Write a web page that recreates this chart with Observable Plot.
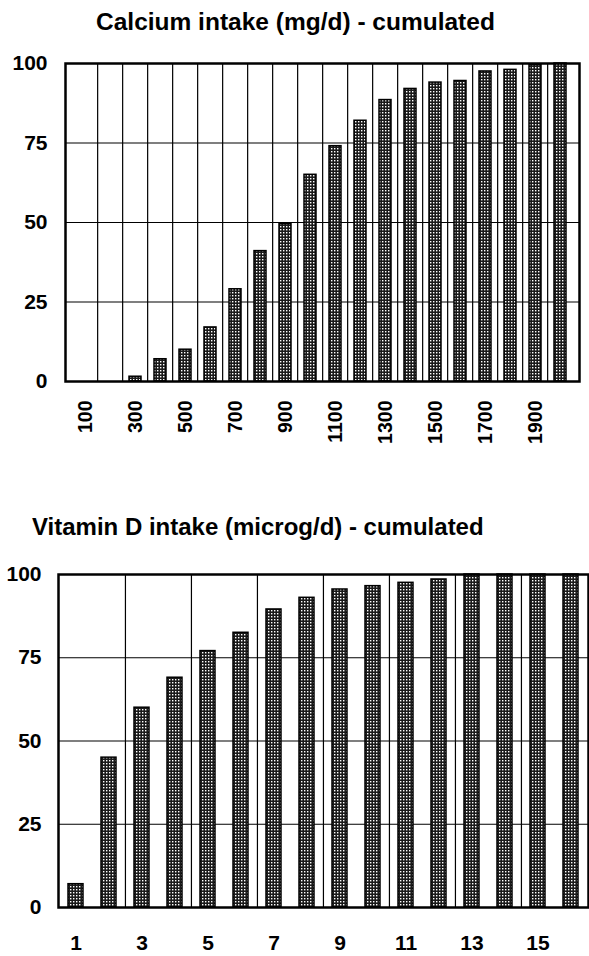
<!DOCTYPE html>
<html><head><meta charset="utf-8">
<script src="https://cdn.jsdelivr.net/npm/d3@7"></script>
<script src="https://cdn.jsdelivr.net/npm/@observablehq/plot@0.6"></script>
<style>
body{margin:0;background:#fff;}
#page{position:relative;width:589px;height:956px;overflow:hidden;font-family:"Liberation Sans",Arial,sans-serif;background:#fff;}
.title{position:absolute;font-weight:bold;font-size:24px;white-space:nowrap;line-height:1;color:#000;}
.chart{position:absolute;left:0;}
</style></head><body>
<div id="page">
 <div class="chart" id="chart1" style="top:0px"></div>
 <div class="chart" id="chart2" style="top:480px"></div>
 <div class="title" id="t1" style="left:96px;top:10px;font-size:24.5px">Calcium intake (mg/d) - cumulated</div>
 <div class="title" id="t2" style="left:32px;top:515px">Vitamin D intake (microg/d) - cumulated</div>
</div>
<script>
// ---- data ----
const calciumLevels = [100,200,300,400,500,600,700,800,900,1000,1100,1200,1300,1400,1500,1600,1700,1800,1900,2000];
const calciumCumulated = [0,0,1.5,7,10,17,29,41,49.5,65,74,82,88.5,92,94,94.5,97.5,98,99.5,100];
const calciumTickLabels = [100,300,500,700,900,1100,1300,1500,1700,1900];

const vitDLevels = [1,2,3,4,5,6,7,8,9,10,11,12,13,14,15,16];
const vitDCumulated = [7,45,60,69,77,82.5,89.5,93,95.5,96.5,97.5,98.5,100,100,100,100];
const vitDTickLabels = [1,3,5,7,9,11,13,15];

const yTicks = [0,25,50,75,100];
const yGrid = [25,50,75];

// ---- helpers ----
const FONT = '"Liberation Sans", Arial, sans-serif';
function addPattern(svg, id){
  const ns = "http://www.w3.org/2000/svg";
  const defs = document.createElementNS(ns, "defs");
  const pat = document.createElementNS(ns, "pattern");
  pat.setAttribute("id", id);
  pat.setAttribute("width", "3");
  pat.setAttribute("height", "3");
  pat.setAttribute("patternUnits", "userSpaceOnUse");
  const bg = document.createElementNS(ns, "rect");
  bg.setAttribute("width", "3"); bg.setAttribute("height", "3"); bg.setAttribute("fill", "#1a1a1a");
  const dot = document.createElementNS(ns, "rect");
  dot.setAttribute("x", "1"); dot.setAttribute("y", "1");
  dot.setAttribute("width", "1.4"); dot.setAttribute("height", "1.4"); dot.setAttribute("fill", "#ffffff");
  pat.appendChild(bg); pat.appendChild(dot);
  defs.appendChild(pat);
  svg.insertBefore(defs, svg.firstChild);
}
function setAxisFont(svg, axis, size){
  svg.querySelectorAll('[aria-label^="' + axis + '-axis"]').forEach(g => {
    g.setAttribute("font-size", size);
    g.querySelectorAll("text").forEach(t => { t.style.fontSize = size + "px"; });
  });
}

const W = 589;

// ---- chart 1: calcium ----
{
  const ml = 65, mr = 10, mt = 63, mb = 75, H = 456;
  const step = (W - ml - mr) / calciumLevels.length;
  const pad = 0.53;
  const data = calciumLevels.map((v, i) => ({level: v, pct: calciumCumulated[i]}));
  const svg = Plot.plot({
    width: W, height: H,
    marginLeft: ml, marginRight: mr, marginTop: mt, marginBottom: mb,
    style: {fontFamily: FONT, fontSize: "21px", fontWeight: "bold", color: "#000", background: "transparent", overflow: "visible"},
    x: {type: "band", domain: calciumLevels, paddingInner: pad, paddingOuter: pad / 2,
        ticks: calciumTickLabels, tickFormat: d => String(d), tickRotate: -90, tickSize: 0, tickPadding: 19, label: null},
    y: {domain: [0, 100], ticks: yTicks, tickFormat: d => String(d), tickSize: 0, tickPadding: 18, label: null},
    marks: [
      Plot.ruleY(yGrid, {stroke: "#000", strokeWidth: 1.2}),
      Plot.ruleX(calciumLevels.slice(1), {stroke: "#000", strokeWidth: 1.2, dx: -step / 2}),
      Plot.barY(data, {x: "level", y: "pct", fill: "url(#dots1)", stroke: "#000", strokeWidth: 1.5}),
      Plot.frame({stroke: "#000", strokeWidth: 2.5})
    ]
  });
  addPattern(svg, "dots1");
  setAxisFont(svg, "x", 19.5);
  document.getElementById("chart1").appendChild(svg);
}

// ---- chart 2: vitamin D ----
{
  const ml = 58, mr = 1, mt = 94, mb = 49, H = 476;
  const step = (W - ml - mr) / vitDLevels.length;
  const pad = 0.55;
  const data = vitDLevels.map((v, i) => ({level: v, pct: vitDCumulated[i]}));
  const svg = Plot.plot({
    width: W, height: H,
    marginLeft: ml, marginRight: mr, marginTop: mt, marginBottom: mb,
    style: {fontFamily: FONT, fontSize: "21px", fontWeight: "bold", color: "#000", background: "transparent", overflow: "visible"},
    x: {type: "band", domain: vitDLevels, paddingInner: pad, paddingOuter: pad / 2,
        ticks: vitDTickLabels, tickFormat: d => String(d), tickSize: 0, tickPadding: 28, label: null},
    y: {domain: [0, 100], ticks: yTicks, tickFormat: d => String(d), tickSize: 0, tickPadding: 17, label: null},
    marks: [
      Plot.ruleY(yGrid, {stroke: "#000", strokeWidth: 1.2}),
      Plot.ruleX(vitDTickLabels.slice(1), {stroke: "#000", strokeWidth: 1.2, dx: -step / 2}),
      Plot.barY(data, {x: "level", y: "pct", fill: "url(#dots2)", stroke: "#000", strokeWidth: 1.5}),
      Plot.frame({stroke: "#000", strokeWidth: 2.5})
    ]
  });
  addPattern(svg, "dots2");
  document.getElementById("chart2").appendChild(svg);
}
</script>
</body></html>
